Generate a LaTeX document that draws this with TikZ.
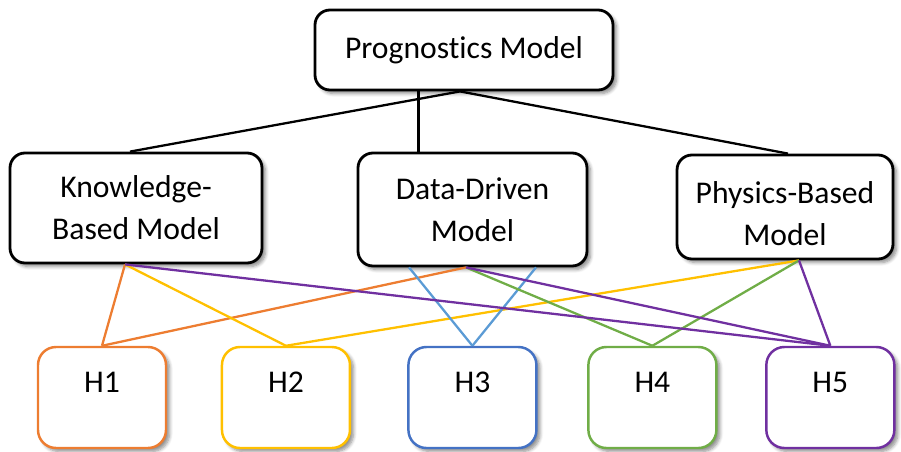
\documentclass[tikz,border=0pt]{standalone}
\usepackage{fontspec}
\setmainfont{Carlito}[Ligatures=NoCommon]
\usepackage{tikz}
\usetikzlibrary{positioning,shadows.blur}

\definecolor{hone}{HTML}{ED7D31}
\definecolor{htwo}{HTML}{FFC000}
\definecolor{hthree}{HTML}{4472C4}
\definecolor{hthreeline}{HTML}{5B9BD5}
\definecolor{hfour}{HTML}{70AD47}
\definecolor{hfive}{HTML}{7030A0}

\begin{document}
\begin{tikzpicture}[
    model/.style={draw=black, line width=1.6pt, rounded corners=0.3cm, fill=white,
      align=center, font=\fontsize{18}{24}\selectfont,
      blur shadow={shadow xshift=2pt, shadow yshift=-2pt, shadow blur steps=6, shadow opacity=45}},
    hyp/.style={draw=#1, line width=1.4pt, rounded corners=0.36cm, fill=white,
      minimum width=2.56cm, inner sep=0pt, text height=0.9cm, text depth=1.12cm,
      font=\fontsize{18}{24}\selectfont,
      blur shadow={shadow xshift=2pt, shadow yshift=-2pt, shadow blur steps=6, shadow opacity=45}},
    link/.style={draw=#1, line width=1.3pt}]
  \useasboundingbox (0,0) rectangle (18.02,9.02);

  % models
  \node[model, minimum width=5.96cm, minimum height=1.6cm] (prog) at (9.28,8.02) {Prognostics Model};
  \node[model, minimum width=5.04cm, minimum height=2.2cm] (know) at (2.72,4.86) {Knowledge-\\Based Model};
  \node[model, minimum width=4.58cm, minimum height=2.26cm] (data) at (9.45,4.83) {Data-Driven\\Model};
  \node[model, minimum width=4.32cm, minimum height=2.08cm] (phys) at (15.70,4.88) {\rule{0pt}{20pt}Physics-Based\\Model};

  % hypotheses
  \node[hyp=hone] (h1) at (2.04,1.07) {H1};
  \node[hyp=htwo] [right=1.07cm of h1] (h2) {H2};
  \node[hyp=hthree] [right=1.12cm of h2] (h3) {H3};
  \node[hyp=hfour] [right=0.99cm of h3] (h4) {H4};
  \node[hyp=hfive] [right=0.95cm of h4] (h5) {H5};

  \coordinate (prog-out) at ([xshift=-0.08cm]prog.south);
  \coordinate (know-out) at ([xshift=-0.22cm]know.south);
  \coordinate (data-out) at ([xshift=-0.13cm]data.south);
  \coordinate (phys-out) at ([xshift=0.28cm]phys.south);

  % tree
  \path[link=black]
    (prog-out) edge ([xshift=-0.12cm]know.north)
    (prog-out) edge ([xshift=0.06cm]phys.north)
    ([xshift=-1.08cm]data.north) edge ([xshift=-1.08cm]data.north |- prog.south);

  % hypotheses links
  \path[link=hone] (know-out) edge (h1.north) (data-out) edge (h1.north);
  \path[link=htwo] (know-out) edge (h2.north) (phys-out) edge (h2.north);
  \path[link=hthreeline] ([xshift=-1.27cm]data.south) edge (h3.north)
    ([xshift=1.27cm]data.south) edge (h3.north);
  \path[link=hfour] (data-out) edge (h4.north) (phys-out) edge (h4.north);
  \path[link=hfive] (know-out) edge (h5.north) (data-out) edge (h5.north)
    (phys-out) edge (h5.north);
\end{tikzpicture}
\end{document}
